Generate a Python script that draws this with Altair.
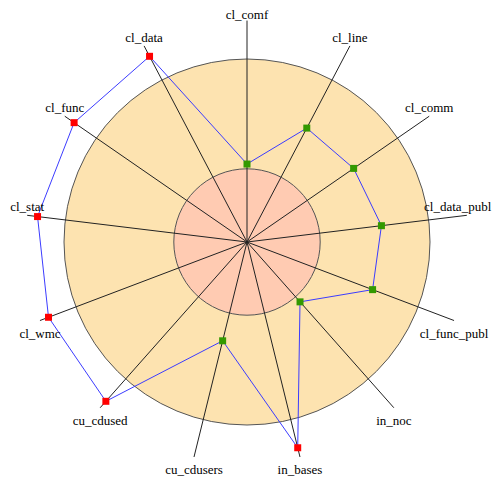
import math
import altair as alt
import pandas as pd

# ---- data ----
metrics = ["cl_comf", "cl_line", "cl_comm", "cl_data_publ", "cl_func_publ",
           "in_noc", "in_bases", "cu_cdusers", "cu_cdused", "cl_wmc",
           "cl_stat", "cl_func", "cl_data"]
values = [42.6, 70.3, 70.8, 74.0, 73.4, 43.7, 115.8, 55.6, 116.3, 116.0,
          115.3, 114.8, 114.6]
ring_names = ["outer", "inner"]
ring_limits = [100, 40]
spoke_length = [121]

n = len(metrics)
df = pd.DataFrame({"metric": metrics, "value": values, "idx": list(range(n))})
outer_df = pd.DataFrame({"ring": [ring_names[0]], "r": [ring_limits[0]]})
inner_df = pd.DataFrame({"ring": [ring_names[1]], "r": [ring_limits[1]]})

PX = 1.83          # pixels per unit
W, H = 485, 469
CX, CY = 239, 234  # centre in plot pixels
XMAX = (W - CX) / PX
YMAX = CY / PX

xs = alt.Scale(domain=[-CX / PX, XMAX], nice=False, zero=False)
ys = alt.Scale(domain=[-(H - CY) / PX, YMAX], nice=False, zero=False)
rs = alt.Scale(type="linear", domain=[0, 100], range=[0, 100 * PX], zero=True)

ang = f"datum.idx * 2 * PI / {n}"
L = spoke_length[0]
FS = 13


def base(data):
    return alt.Chart(data).transform_calculate(c0="0")


def ring(data, fill):
    return base(data).mark_arc(theta=0, theta2=2 * math.pi, fill=fill,
                               stroke="#555555", strokeWidth=1).encode(
        x=alt.X("c0:Q", scale=xs, axis=None),
        y=alt.Y("c0:Q", scale=ys, axis=None),
        radius=alt.Radius("r:Q", scale=rs),
    )


outer = ring(outer_df, "#FDE3B0")
inner = ring(inner_df, "#FFCBB2")

geo = base(df).transform_calculate(
    ang=ang,
    ex=f"{L} * sin(datum.ang)",
    ey=f"{L} * cos(datum.ang)",
    px="datum.value * sin(datum.ang)",
    py="datum.value * cos(datum.ang)",
    status=f"datum.value > {ring_limits[0]} ? 'out' : 'in'",
    upper="cos(datum.ang) >= 0",
    # keep labels inside the drawing area (approx. half text width / height)
    lx=f"min(datum.ex, {XMAX} - (length(datum.metric) * {FS} * 0.22 + 1) / {PX})",
    ly=f"min(datum.ey, {YMAX} - 15 / {PX})",
)

spokes = geo.mark_rule(color="#222222", strokeWidth=1).encode(
    x=alt.X("c0:Q", scale=xs, axis=None),
    y=alt.Y("c0:Q", scale=ys, axis=None),
    x2="ex:Q",
    y2="ey:Q",
)

line = geo.mark_line(interpolate="linear-closed", color="#3c3cff",
                     strokeWidth=1).encode(
    x=alt.X("px:Q", scale=xs, axis=None),
    y=alt.Y("py:Q", scale=ys, axis=None),
    order="idx:Q",
)

points = geo.mark_square(size=49, opacity=1, filled=True).encode(
    x=alt.X("px:Q", scale=xs, axis=None),
    y=alt.Y("py:Q", scale=ys, axis=None),
    color=alt.Color("status:N", scale=alt.Scale(domain=["in", "out"],
                    range=["#339900", "#ff0000"]), legend=None),
)

label_font = dict(font="'Liberation Serif', 'DejaVu Serif', serif", fontSize=FS,
                  color="#000000", align="center", baseline="middle")
labels_up = geo.transform_filter("datum.upper").mark_text(dy=-8, **label_font).encode(
    x=alt.X("lx:Q", scale=xs, axis=None),
    y=alt.Y("ly:Q", scale=ys, axis=None),
    text="metric:N",
)
labels_down = geo.transform_filter("!datum.upper").mark_text(dy=13, **label_font).encode(
    x=alt.X("lx:Q", scale=xs, axis=None),
    y=alt.Y("ey:Q", scale=ys, axis=None),
    text="metric:N",
)

chart = alt.layer(outer, inner, spokes, line, points, labels_up, labels_down).properties(
    width=W, height=H, padding=0, autosize=alt.AutoSizeParams(type="none"),
    background="white",
).configure_view(strokeWidth=0)

chart.save("out.html", embed_options={"renderer": "svg", "actions": False})
